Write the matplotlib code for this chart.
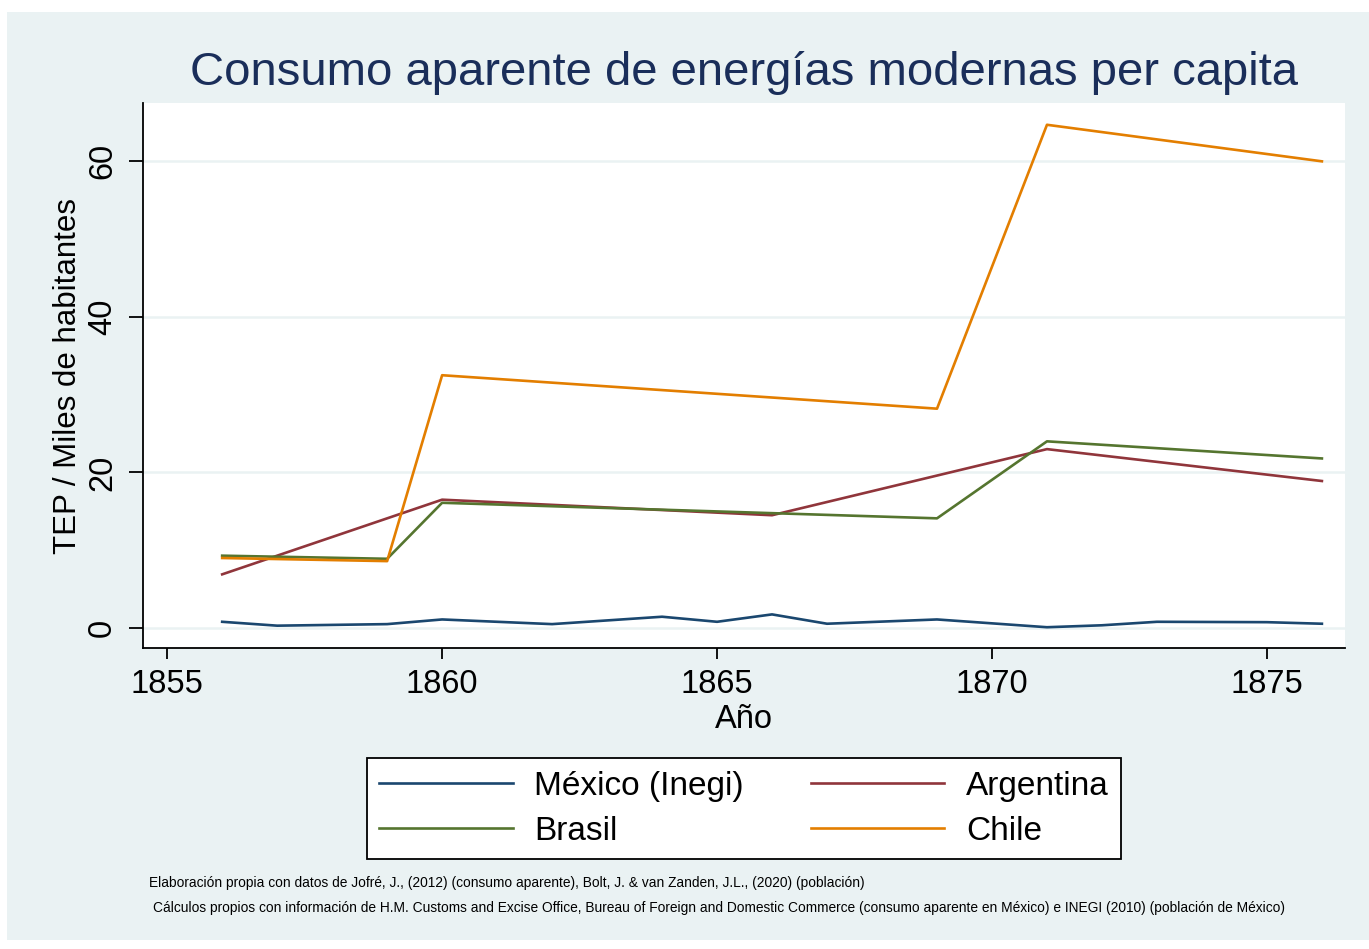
import matplotlib.pyplot as plt
from matplotlib.patches import Rectangle

plt.rcParams['font.family'] = ['Liberation Sans', 'DejaVu Sans']

bg = '#EAF2F3'

# Mexico (Inegi)
mex_years = [1856, 1857, 1859, 1860, 1862, 1864, 1865, 1866, 1867, 1869,
             1871, 1872, 1873, 1875, 1876]
mex_vals = [0.8, 0.3, 0.5, 1.1, 0.5, 1.45, 0.8, 1.75, 0.55, 1.1,
            0.1, 0.35, 0.8, 0.75, 0.55]

arg_years = [1856, 1860, 1866, 1871, 1876]
arg_vals = [6.9, 16.5, 14.5, 23.0, 18.9]

bra_years = [1856, 1859, 1860, 1869, 1871, 1876]
bra_vals = [9.3, 8.9, 16.1, 14.1, 24.0, 21.8]

chi_years = [1856, 1859, 1860, 1869, 1871, 1876]
chi_vals = [9.0, 8.6, 32.5, 28.2, 64.7, 60.0]

fig = plt.figure(figsize=(13.69, 9.49), dpi=100)
fig.patch.set_facecolor('white')
fig.patches.append(Rectangle((7 / 1369, 9 / 949), 1 - 7 / 1369, 1 - 21 / 949,
                             transform=fig.transFigure, facecolor=bg,
                             edgecolor='none', zorder=-10))

ax = fig.add_axes([143 / 1369, 1 - 648 / 949, (1345 - 143) / 1369, (648 - 103) / 949])
ax.set_facecolor('white')

lw = 1.9
ax.plot(mex_years, mex_vals, color='#1A476F', lw=lw, label='México (Inegi)')
ax.plot(arg_years, arg_vals, color='#90353B', lw=lw, label='Argentina')
ax.plot(bra_years, bra_vals, color='#55752F', lw=lw, label='Brasil')
ax.plot(chi_years, chi_vals, color='#E37E00', lw=lw, label='Chile')

ax.set_xlim(1854.56, 1876.42)
ax.set_ylim(-2.57, 67.5)
ax.set_xticks([1855, 1860, 1865, 1870, 1875])
ax.set_yticks([0, 20, 40, 60])
ax.grid(axis='y', color=bg, lw=1.8)
ax.set_axisbelow(True)
for s in ['top', 'right']:
    ax.spines[s].set_visible(False)
for s in ['left', 'bottom']:
    ax.spines[s].set_linewidth(1.3)
ax.tick_params(axis='x', labelsize=23.5, length=8, width=1.3, pad=7)
ax.tick_params(axis='y', labelsize=23.5, length=10, width=1.3, pad=8)
for lab in ax.get_yticklabels():
    lab.set_rotation(90)
    lab.set_va('center')

ax.set_xlabel('Año', fontsize=23.5, labelpad=3)
ax.set_ylabel('TEP / Miles de habitantes', fontsize=22.5, labelpad=3)

fig.text(744 / 1369, 1 - 73 / 949, 'Consumo aparente de energías modernas per capita',
         fontsize=34, color='#1A2E5A', ha='center', va='center')

handles, labels = ax.get_legend_handles_labels()
order = [0, 2, 1, 3]
leg = fig.legend([handles[i] for i in order], [labels[i] for i in order],
                 loc='center', bbox_to_anchor=(744 / 1369, 1 - 808.5 / 949),
                 ncol=2, fontsize=24, frameon=True, fancybox=False, framealpha=1,
                 handlelength=4.0, handletextpad=0.65, columnspacing=2.0,
                 borderpad=0.38, labelspacing=0.42, borderaxespad=0)
leg.get_frame().set_edgecolor('black')
leg.get_frame().set_linewidth(1.3)
leg.get_frame().set_facecolor('white')

fig.text(149 / 1369, 1 - 883 / 949,
         'Elaboración propia con datos de Jofré, J., (2012) (consumo aparente), '
         'Bolt, J. & van Zanden, J.L., (2020) (población)',
         fontsize=9.9, ha='left', va='center')
fig.text(153 / 1369, 1 - 908 / 949,
         'Cálculos propios con información de H.M. Customs and Excise Office, '
         'Bureau of Foreign and Domestic Commerce (consumo aparente en México) '
         'e INEGI (2010) (población de México)',
         fontsize=9.9, ha='left', va='center')

fig.savefig('out.png', dpi=100, facecolor=fig.get_facecolor())
